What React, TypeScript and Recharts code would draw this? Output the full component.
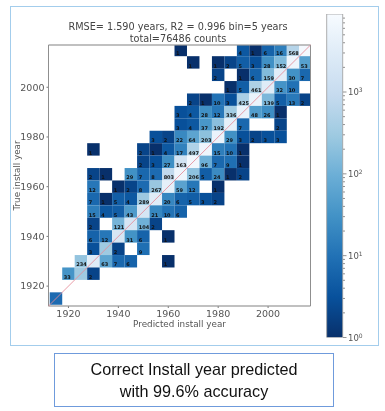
import { ScatterChart, Scatter, XAxis, YAxis, CartesianGrid, ReferenceLine, ReferenceArea, ComposedChart, Bar } from "recharts";

const W = 385;
const H = 411;
const VMAX = 8980;
const YEAR_MIN = 1912;
const YEAR_MAX = 2017;
const BIN = 5;
// plot box in page px
const PLOT = { left: 48.5, right: 310.5, top: 45, bottom: 306 };
const CELL_W = ((PLOT.right - PLOT.left) / (YEAR_MAX - YEAR_MIN)) * BIN;
const CELL_H = ((PLOT.bottom - PLOT.top) / (YEAR_MAX - YEAR_MIN)) * BIN;

const YEAR_TICKS = [1920, 1940, 1960, 1980, 2000];
const BLUES_R = ["#08306b", "#08519c", "#2171b5", "#4292c6", "#6baed6", "#9ecae1", "#c6dbef", "#deebf7", "#f7fbff"];

// [predicted year, count] per true-year row; a third item of 0 = no number printed in the cell
type Entry = [number, number, number?];
const true2015: Entry[] = [[1965, 1], [1990, 4], [1995, 1], [2000, 6], [2005, 16], [2010, 568], [2015, 8000, 0]];
const true2010: Entry[] = [[1970, 1], [1980, 1], [1985, 2], [1990, 5], [1995, 3], [2000, 28], [2005, 152], [2010, 6000, 0], [2015, 53]];
const true2005: Entry[] = [[1980, 2], [1990, 1], [1995, 6], [2000, 159], [2005, 3500, 0], [2010, 30], [2015, 7]];
const true2000: Entry[] = [[1985, 1], [1990, 5], [1995, 461], [2000, 3000, 0], [2005, 32], [2010, 10]];
const true1995: Entry[] = [[1970, 2], [1975, 1], [1980, 10], [1985, 3], [1990, 425], [1995, 5000, 0], [2000, 139], [2005, 5], [2010, 13], [2015, 2]];
const true1990: Entry[] = [[1965, 3], [1970, 4], [1975, 28], [1980, 12], [1985, 336], [1990, 5000, 0], [1995, 48], [2000, 26], [2005, 1]];
const true1985: Entry[] = [[1965, 3], [1970, 4], [1975, 37], [1980, 192], [1985, 4000, 0], [1990, 7], [2005, 2]];
const true1980: Entry[] = [[1955, 3], [1960, 2], [1965, 22], [1970, 64], [1975, 203], [1980, 5000, 0], [1985, 29], [1990, 3], [1995, 2], [2000, 3], [2005, 3]];
const true1975: Entry[] = [[1930, 1], [1950, 2], [1955, 1], [1960, 4], [1965, 17], [1970, 497], [1975, 6000, 0], [1980, 15], [1985, 10], [1990, 1]];
const true1970: Entry[] = [[1950, 2], [1955, 3], [1960, 27], [1965, 1634], [1970, 7000, 0], [1975, 96], [1980, 7], [1985, 9], [1990, 1]];
const true1965: Entry[] = [[1930, 2], [1935, 1], [1945, 29], [1950, 7], [1955, 8], [1960, 803], [1965, 6000, 0], [1970, 206], [1975, 5], [1980, 24], [1985, 1], [1990, 2]];
const true1960: Entry[] = [[1930, 12], [1940, 1], [1945, 2], [1950, 8], [1955, 267], [1960, 4000, 0], [1965, 59], [1970, 12], [1980, 1]];
const true1955: Entry[] = [[1930, 7], [1935, 1], [1940, 5], [1945, 4], [1950, 289], [1955, 3000, 0], [1960, 20], [1965, 6], [1970, 5], [1975, 3], [1980, 2]];
const true1950: Entry[] = [[1930, 15], [1935, 4], [1940, 5], [1945, 43], [1950, 2000, 0], [1955, 21], [1960, 10], [1965, 6]];
const true1945: Entry[] = [[1930, 2], [1940, 121], [1945, 2000, 0], [1950, 104], [1955, 2]];
const true1940: Entry[] = [[1930, 6], [1935, 12], [1940, 2000, 0], [1945, 31], [1950, 6], [1960, 1]];
const true1935: Entry[] = [[1930, 3], [1935, 300, 0], [1940, 2], [1950, 9]];
const true1930: Entry[] = [[1925, 234], [1930, 3000, 0], [1935, 63], [1940, 7], [1945, 6], [1960, 1]];
const true1925: Entry[] = [[1920, 33], [1925, 300, 0], [1930, 2]];
const true1915: Entry[] = [[1915, 8, 0]];

const rows: [number, Entry[]][] = [
  [2015, true2015], [2010, true2010], [2005, true2005], [2000, true2000], [1995, true1995],
  [1990, true1990], [1985, true1985], [1980, true1980], [1975, true1975], [1970, true1970],
  [1965, true1965], [1960, true1960], [1955, true1955], [1950, true1950], [1945, true1945],
  [1940, true1940], [1935, true1935], [1930, true1930], [1925, true1925], [1915, true1915],
];

const cells = rows.flatMap(([trueYear, entries]) =>
  entries.map(([pred, count, printed]) => ({ pred, trueYear, count, printed: printed !== 0 }))
);

const CBAR_TICKS = [
  1, 2, 3, 4, 5, 6, 7, 8, 9,
  10, 20, 30, 40, 50, 60, 70, 80, 90,
  100, 200, 300, 400, 500, 600, 700, 800, 900,
  1000, 2000, 3000, 4000, 5000, 6000, 7000, 8000,
];
const cbarData = [{ name: "counts", top: VMAX }];

function hexToRgb(h: string) {
  return [1, 3, 5].map((i) => parseInt(h.slice(i, i + 2), 16));
}

function countColor(v: number) {
  const t = Math.min(1, Math.log10(v) / Math.log10(VMAX)) * (BLUES_R.length - 1);
  const i = Math.min(BLUES_R.length - 2, Math.floor(t));
  const a = hexToRgb(BLUES_R[i]);
  const b = hexToRgb(BLUES_R[i + 1]);
  const c = a.map((x, k) => Math.round(x + (b[k] - x) * (t - i)));
  return `rgb(${c[0]},${c[1]},${c[2]})`;
}

function CellShape(props: any) {
  const { cx, cy, payload } = props;
  const left = cx - CELL_W / 2;
  return (
    <g>
      <rect x={left} y={cy - CELL_H / 2} width={CELL_W} height={CELL_H} fill={countColor(payload.count)} />
      {payload.printed && (
        <text x={left + 1.6} y={cy + 5.2} fontSize={5} fontWeight={700} fill="#111" fontFamily="DejaVu Sans">
          {payload.count}
        </text>
      )}
    </g>
  );
}

function CbarTick(props: any) {
  const { x, y, payload } = props;
  const exp = Math.log10(payload.value);
  const major = Number.isInteger(Math.round(exp * 1e6) / 1e6);
  return (
    <g>
      <line x1={x} x2={x + (major ? 3.5 : 2)} y1={y} y2={y} stroke="#666" strokeWidth={0.7} />
      {major && (
        <text x={x + 5} y={y + 3} fontSize={8.5} fill="#555" fontFamily="DejaVu Sans">
          10
          <tspan dy={-3} fontSize={6}>{Math.round(exp)}</tspan>
        </text>
      )}
    </g>
  );
}

const tickStyle = { fontSize: 9.5, fill: "#555", fontFamily: "DejaVu Sans" };
const labelStyle = { fontSize: 8.8, fill: "#555", fontFamily: "DejaVu Sans" };
const plotMargin = { left: 0.5, right: W - PLOT.right, top: PLOT.top, bottom: H - PLOT.bottom - 30 };

export default function App() {
  return (
    <div style={{ position: "absolute", left: 0, top: 0, width: W, height: H, background: "#fff", overflow: "hidden" }}>
      <div style={{ position: "absolute", left: 10, top: 6, width: 367, height: 338, border: "1.3px solid #a3cdec" }} />

      <div style={{ position: "absolute", left: 0, top: 0, width: W, height: H, filter: "blur(0.45px)" }}>
        <div style={{ position: "absolute", left: 28, top: 21, width: 300, textAlign: "center", fontFamily: "DejaVu Sans", fontSize: 9.7, lineHeight: "11.6px", color: "#444", whiteSpace: "nowrap" }}>
          RMSE= 1.590 years, R2 = 0.996 bin=5 years
          <br />
          total=76486 counts
        </div>

        <div style={{ position: "absolute", left: 0, top: 0 }}>
          <ScatterChart width={W} height={H} margin={plotMargin}>
            <XAxis
              type="number"
              dataKey="pred"
              domain={[YEAR_MIN, YEAR_MAX]}
              ticks={YEAR_TICKS}
              allowDataOverflow
              height={30}
              tick={tickStyle}
              tickSize={2}
              tickMargin={2}
              axisLine={false}
              tickLine={{ stroke: "#777" }}
              label={{ value: "Predicted install year", position: "insideBottom", offset: 9, style: labelStyle }}
            />
            <YAxis
              type="number"
              dataKey="trueYear"
              domain={[YEAR_MIN, YEAR_MAX]}
              ticks={YEAR_TICKS}
              allowDataOverflow
              width={48}
              tick={tickStyle}
              tickSize={2}
              tickMargin={2}
              axisLine={false}
              tickLine={{ stroke: "#777" }}
              label={{ value: "True install year", angle: -90, position: "insideLeft", offset: 16, style: { ...labelStyle, textAnchor: "middle" } }}
            />
            <Scatter data={cells} shape={CellShape} isAnimationActive={false} />
          </ScatterChart>
        </div>

        {/* second layer on the same scales: grid, diagonal and frame sit above the cells */}
        <div style={{ position: "absolute", left: 0, top: 0 }}>
          <ScatterChart width={W} height={H} margin={plotMargin}>
            <XAxis type="number" dataKey="pred" domain={[YEAR_MIN, YEAR_MAX]} ticks={YEAR_TICKS} allowDataOverflow height={30} tick={false} tickLine={false} axisLine={false} />
            <YAxis type="number" dataKey="trueYear" domain={[YEAR_MIN, YEAR_MAX]} ticks={YEAR_TICKS} allowDataOverflow width={48} tick={false} tickLine={false} axisLine={false} />
            <CartesianGrid stroke="#b8b8b8" strokeOpacity={0.4} strokeWidth={1} />
            <Scatter data={[]} isAnimationActive={false} />
            <ReferenceLine
              segment={[{ x: YEAR_MIN, y: YEAR_MIN }, { x: YEAR_MAX, y: YEAR_MAX }]}
              stroke="#e58b98"
              strokeOpacity={0.85}
              strokeWidth={1}
            />
            <ReferenceArea x1={YEAR_MIN} x2={YEAR_MAX} y1={YEAR_MIN} y2={YEAR_MAX} fill="none" stroke="#8f8f8f" strokeWidth={1} />
          </ScatterChart>
        </div>

        <div style={{ position: "absolute", left: 0, top: 0 }}>
          <ComposedChart
            width={W}
            height={H}
            data={cbarData}
            barCategoryGap={0}
            margin={{ left: 326.7, right: 2, top: 14, bottom: H - 337.5 }}
          >
            <defs>
              <linearGradient id="cbarFill" x1="0" y1="1" x2="0" y2="0">
                {BLUES_R.map((c, i) => (
                  <stop key={c} offset={i / (BLUES_R.length - 1)} stopColor={c} />
                ))}
              </linearGradient>
            </defs>
            <XAxis dataKey="name" hide />
            <YAxis
              orientation="right"
              scale="log"
              domain={[1, VMAX]}
              ticks={CBAR_TICKS}
              interval={0}
              allowDataOverflow
              width={40}
              axisLine={false}
              tickLine={false}
              tickSize={0}
              tickMargin={0}
              tick={CbarTick}
            />
            <Bar dataKey="top" fill="url(#cbarFill)" stroke="#999" strokeWidth={0.8} isAnimationActive={false} />
          </ComposedChart>
        </div>
      </div>

      <div style={{ position: "absolute", left: 54, top: 353, width: 278, height: 52, border: "1.2px solid #6f9bdc", filter: "blur(0.25px)", display: "flex", alignItems: "center", justifyContent: "center", textAlign: "center", fontFamily: "Liberation Sans", fontSize: 16.2, lineHeight: "22.5px", color: "#111" }}>
        <div>
          Correct Install year predicted
          <br />
          with 99.6% accuracy
        </div>
      </div>
    </div>
  );
}
